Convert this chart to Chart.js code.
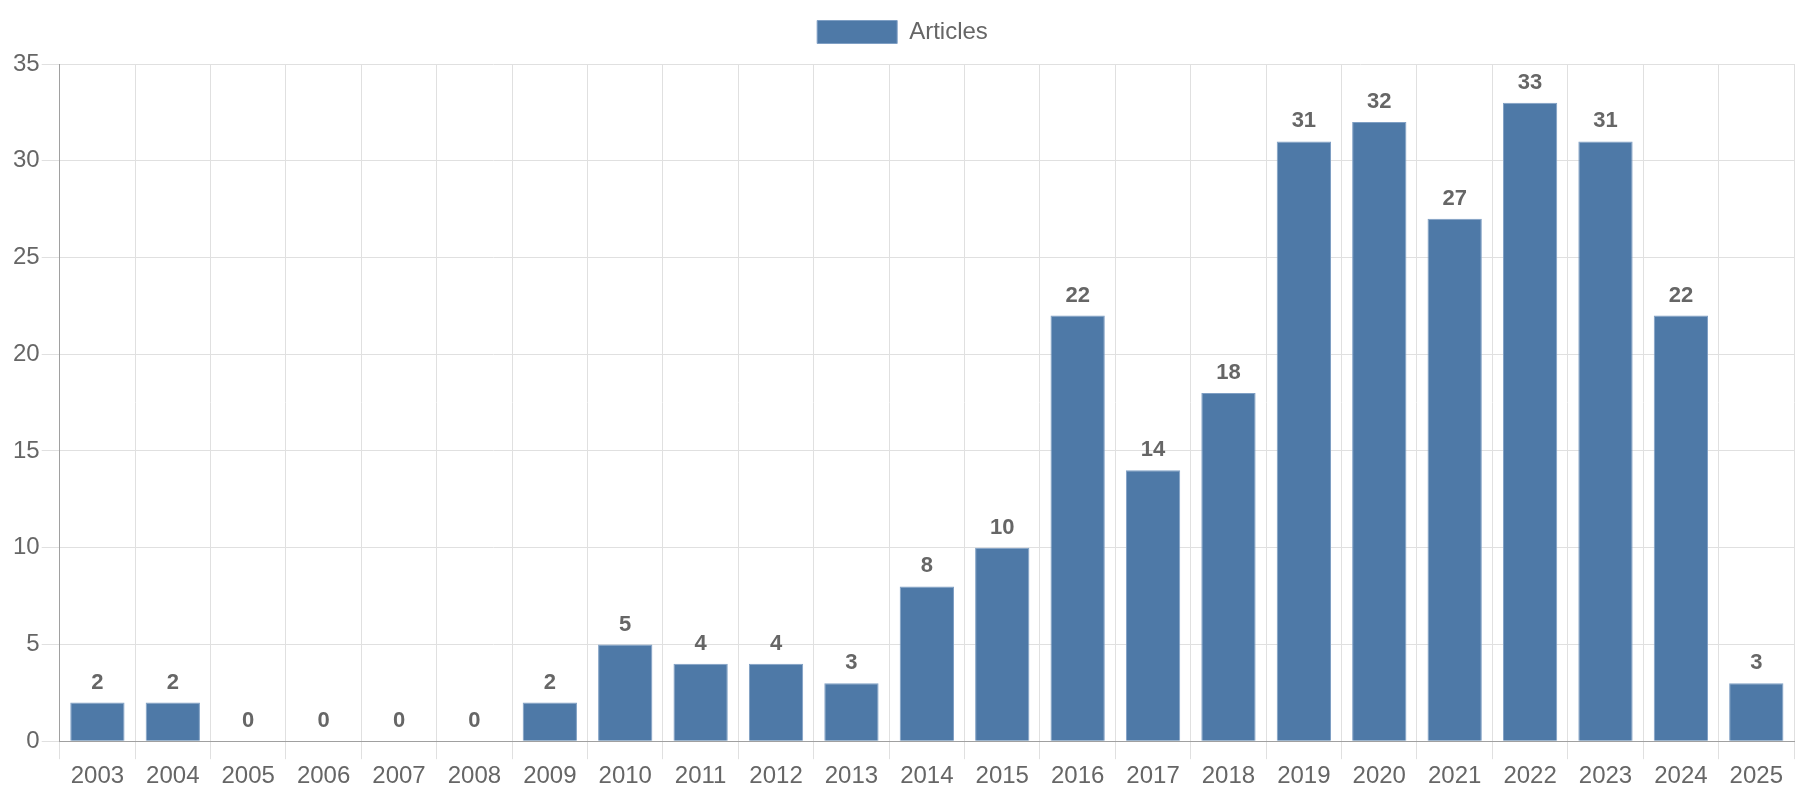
<!DOCTYPE html>
<html>
<head>
<meta charset="utf-8">
<script src="https://cdn.jsdelivr.net/npm/chart.js@4.4.1/dist/chart.umd.min.js"></script>
<style>
  html, body { margin: 0; padding: 0; background: #fff; }
  #wrap { width: 1800px; height: 800px; }
</style>
</head>
<body>
<div id="wrap"><canvas id="barChart"></canvas></div>
<script>
const years = ['2003', '2004', '2005', '2006', '2007', '2008', '2009', '2010', '2011', '2012', '2013', '2014',
    '2015', '2016', '2017', '2018', '2019', '2020', '2021', '2022', '2023', '2024', '2025'];
const articles = [2, 2, 0, 0, 0, 0, 2, 5, 4, 4, 3, 8, 10, 22, 14, 18, 31, 32, 27, 33, 31, 22, 3];

Chart.defaults.font.family = '"Liberation Sans", Arial, sans-serif';
Chart.defaults.color = '#666';

// draw the value above each bar
const valueLabels = {
    id: 'valueLabels',
    afterDatasetsDraw(chart) {
        const ctx = chart.ctx;
        const meta = chart.getDatasetMeta(0);
        ctx.save();
        ctx.font = 'bold 22px "Liberation Sans", Arial, sans-serif';
        ctx.fillStyle = '#666';
        ctx.textAlign = 'center';
        ctx.textBaseline = 'bottom';
        meta.data.forEach((bar, i) => {
            ctx.fillText(articles[i], bar.x, bar.y - 9);
        });
        ctx.restore();
    }
};

// extra room between legend and plot
const legendGap = {
    id: 'legendGap',
    beforeInit(chart) {
        const origFit = chart.legend.fit;
        chart.legend.fit = function () {
            origFit.bind(chart.legend)();
            this.height += 10;
        };
    }
};

const ctx = document.getElementById('barChart').getContext('2d');
const barChart = new Chart(ctx, {
    type: 'bar',
    data: {
        labels: years,
        datasets: [{
            label: 'Articles',
            data: articles,
            backgroundColor: '#4e79a7',
            borderColor: '#7f9fc4',
            borderWidth: 1,
            categoryPercentage: 0.8,
            barPercentage: 0.9
        }]
    },
    options: {
        responsive: true,
        maintainAspectRatio: false,
        animation: false,
        layout: { padding: { top: 4, left: 11, bottom: 6, right: 6 } },
        plugins: {
            legend: {
                labels: { boxWidth: 80, boxHeight: 23, font: { size: 24 }, padding: 16 }
            },
            tooltip: { enabled: false }
        },
        scales: {
            x: {
                grid: { color: '#e0e0e0', tickLength: 18 },
                border: { color: '#a0a0a0' },
                ticks: { font: { size: 24 } }
            },
            y: {
                beginAtZero: true,
                max: 35,
                grid: { color: '#e0e0e0', tickLength: 18 },
                border: { color: '#a0a0a0' },
                ticks: { stepSize: 5, font: { size: 24 }, padding: 2 }
            }
        }
    },
    plugins: [valueLabels, legendGap]
});
</script>
</body>
</html>
